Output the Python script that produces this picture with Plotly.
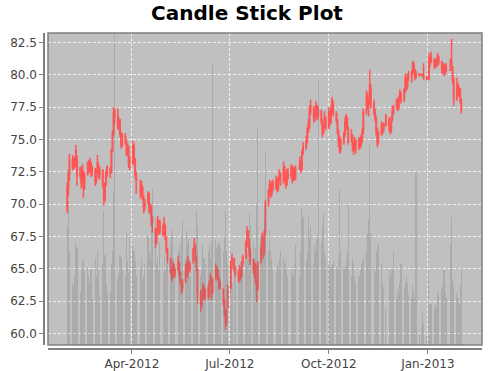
import pandas as pd
import plotly.graph_objects as go

# ---- data (business days 2012-02-01 .. 2013-02-01; holidays are flat bars) ----
start_date = "2012-02-01"
end_date = "2013-02-01"

open_ = [
    69.6, 71.2, 72.3,
    73.4, 72.9, 73.4, 73.0, 73.6,
    72.3, 72.6, 71.8, 72.5, 71.3,
    72.4, 73.2, 72.6, 73.2, 72.5,
    72.6, 71.8, 72.6, 73.0, 72.2,
    72.6, 71.5, 70.4, 71.6, 72.3,
    72.7, 72.5, 74.2, 75.5, 77.2,
    76.8, 76.0, 76.5, 75.4, 74.6,
    75.2, 74.8, 74.0, 74.4, 73.1,
    73.2, 74.5, 73.5, 72.3, 71.9,
    71.8, 70.8, 71.2, 70.5, 69.8,
    70.2, 70.8, 69.5, 69.8, 68.6,
    68.0, 67.1, 68.0, 68.6, 67.9,
    68.3, 67.7, 68.3, 67.3, 66.4,
    65.7, 64.8, 64.4, 65.2, 64.6,
    65.0, 65.4, 64.6, 64.0, 63.5,
    64.1, 65.2, 64.6, 65.5, 65.0,
    65.6, 66.5, 66.7, 65.8, 64.9,
    63.0, 62.3, 62.9, 63.4, 62.8,
    63.5, 62.9, 63.9, 64.1, 63.2,
    64.3, 65.0, 64.8, 64.2, 63.6,
    63.4, 62.5, 61.6, 60.9, 62.0,
    63.6, 65.3, 65.8, 65.7, 65.0,
    64.6, 64.3, 64.9, 64.5, 65.4,
    65.9, 67.0, 67.9, 66.9, 66.2,
    65.6, 64.9, 65.2, 64.0, 63.5,
    65.6, 66.5, 67.2, 66.2, 67.8,
    70.1, 71.0, 71.4, 70.8, 71.7,
    71.3, 71.9, 71.2, 72.0, 72.3,
    71.7, 72.8, 72.1, 71.6, 72.5,
    72.2, 72.8, 71.9, 72.6, 72.0,
    72.8, 72.8, 73.2, 72.7, 74.0,
    74.4, 74.9, 75.8, 76.0, 77.2,
    77.4, 76.7, 77.0, 77.5, 76.8,
    77.2, 76.4, 75.6, 76.0, 76.6,
    76.0, 77.0, 76.4, 77.4, 77.8,
    77.0, 76.5, 75.6, 74.8, 74.3,
    74.8, 75.4, 76.2, 76.6, 75.9,
    75.0, 75.3, 74.5, 74.3, 74.9,
    74.4, 75.0, 74.6, 75.0, 75.6,
    77.1, 78.4, 77.6, 77.9, 78.9,
    77.8, 77.0, 76.6, 75.6, 74.9,
    75.5, 76.2, 75.8, 76.1, 76.1,
    76.6, 76.0, 75.8, 76.6, 77.1,
    77.5, 78.0, 77.5, 78.2, 78.5,
    78.1, 78.8, 79.6, 79.1, 79.9,
    79.8, 80.2, 80.8, 80.3, 79.9,
    80.1, 80.0, 80.0, 80.0, 80.0,
    79.8, 79.7, 79.7, 81.3, 81.0,
    81.2, 80.7, 81.1, 80.8, 81.4,
    81.0, 80.4, 80.8, 80.2, 80.7,
    80.4, 80.4, 81.0, 80.6, 79.6,
    78.2, 79.2, 78.6, 78.9, 78.0,
]

high = [
    71.7, 72.6, 73.9,
    73.8, 73.6, 73.7, 74.6, 73.8,
    72.9, 72.8, 73.1, 72.6, 72.5,
    73.3, 73.4, 73.6, 73.3, 73.0,
    72.8, 72.7, 73.8, 73.2, 72.9,
    72.7, 71.6, 71.7, 72.6, 73.0,
    72.9, 74.3, 75.7, 77.5, 77.4,
    77.4, 76.7, 76.6, 75.6, 75.5,
    75.5, 75.0, 74.7, 74.5, 73.7,
    74.9, 74.7, 73.6, 72.5, 71.9,
    71.9, 71.8, 71.4, 70.7, 70.4,
    71.0, 70.9, 70.1, 69.9, 69.1,
    68.2, 68.1, 69.1, 68.8, 68.8,
    68.5, 69.0, 68.4, 67.5, 66.6,
    65.9, 65.0, 65.6, 65.4, 65.1,
    66.0, 65.5, 64.8, 64.1, 64.2,
    65.4, 65.5, 66.0, 65.7, 65.5,
    66.6, 67.4, 66.9, 66.0, 65.0,
    63.4, 63.1, 63.9, 63.7, 63.5,
    63.7, 64.1, 64.7, 64.3, 64.3,
    65.4, 65.2, 65.0, 64.4, 64.1,
    63.5, 62.7, 61.8, 61.9, 63.8,
    65.6, 66.2, 65.8, 65.9, 65.2,
    64.9, 65.3, 65.1, 65.6, 66.1,
    67.2, 68.3, 68.0, 67.3, 66.6,
    65.8, 65.5, 65.4, 64.3, 65.6,
    66.8, 67.8, 67.5, 68.0, 70.3,
    71.2, 71.9, 71.6, 71.8, 71.9,
    72.2, 72.0, 72.1, 72.7, 72.5,
    73.3, 73.0, 72.3, 72.7, 72.8,
    73.1, 72.9, 73.0, 72.8, 73.0,
    72.8, 73.7, 73.4, 74.2, 74.8,
    75.3, 76.0, 76.6, 77.6, 78.1,
    77.6, 77.3, 78.0, 77.7, 77.6,
    77.3, 76.6, 76.2, 77.2, 76.8,
    77.5, 77.2, 77.6, 78.3, 78.0,
    77.2, 76.6, 75.8, 75.3, 75.1,
    75.6, 76.7, 77.0, 76.8, 76.0,
    75.8, 75.4, 74.8, 75.2, 75.0,
    75.2, 75.1, 75.4, 75.9, 77.4,
    78.8, 78.6, 78.2, 80.4, 79.3,
    78.1, 77.4, 76.8, 75.9, 75.7,
    76.4, 76.3, 76.3, 76.1, 77.0,
    76.7, 76.2, 76.8, 77.6, 77.7,
    78.2, 78.1, 78.4, 78.9, 78.7,
    79.0, 80.1, 79.8, 80.1, 80.3,
    80.4, 81.1, 81.0, 80.5, 80.3,
    80.1, 80.0, 80.1, 80.1, 80.9,
    79.9, 79.7, 81.7, 81.4, 81.8,
    81.3, 81.2, 81.3, 81.7, 81.5,
    81.1, 80.9, 80.9, 80.8, 80.9,
    80.4, 81.3, 82.8, 80.7, 79.8,
    79.8, 79.4, 79.1, 79.0, 78.2,
]

low = [
    69.3, 70.6, 71.8,
    72.6, 72.7, 72.8, 72.9, 71.4,
    72.0, 71.2, 71.6, 70.5, 71.1,
    72.2, 72.4, 72.5, 72.1, 72.2,
    71.4, 71.6, 72.4, 72.0, 71.9,
    71.3, 69.9, 70.2, 71.4, 72.1,
    72.0, 72.4, 74.0, 75.3, 76.2,
    75.8, 75.7, 75.2, 74.3, 74.4,
    74.6, 73.7, 73.8, 72.8, 72.6,
    73.0, 73.4, 72.0, 70.8, 71.9,
    70.4, 70.6, 70.3, 69.3, 69.5,
    70.0, 69.3, 69.2, 68.3, 67.8,
    66.6, 66.9, 67.8, 67.6, 67.7,
    67.5, 67.6, 67.2, 66.2, 65.4,
    64.6, 64.0, 64.2, 64.4, 64.3,
    64.8, 64.4, 63.8, 63.0, 63.2,
    63.9, 64.4, 64.3, 64.8, 64.7,
    65.4, 66.2, 65.6, 64.8, 62.3,
    61.7, 62.0, 62.7, 62.6, 62.5,
    62.6, 62.8, 63.7, 62.6, 63.0,
    64.1, 64.5, 64.0, 63.4, 63.4,
    62.1, 61.3, 60.3, 60.6, 61.9,
    63.4, 65.0, 65.8, 64.8, 64.4,
    63.9, 64.0, 64.1, 64.3, 65.2,
    65.7, 66.8, 66.6, 65.9, 65.3,
    64.6, 64.3, 63.8, 62.4, 63.3,
    65.4, 66.2, 65.8, 66.0, 67.6,
    69.8, 70.7, 70.5, 70.6, 71.0,
    71.1, 70.9, 71.0, 71.8, 71.4,
    71.6, 71.9, 71.2, 71.4, 71.9,
    72.0, 71.6, 71.8, 71.8, 71.9,
    72.8, 72.6, 72.4, 72.6, 73.8,
    74.2, 74.7, 75.5, 75.8, 76.9,
    76.3, 76.4, 76.8, 76.5, 76.6,
    76.2, 75.2, 75.4, 75.9, 75.7,
    75.8, 76.1, 76.2, 77.2, 76.8,
    76.3, 75.4, 74.4, 73.9, 74.0,
    74.6, 75.2, 76.0, 75.7, 74.6,
    74.8, 74.1, 73.8, 74.1, 73.9,
    74.2, 74.3, 74.4, 74.8, 75.4,
    76.9, 77.3, 76.8, 77.7, 77.4,
    76.9, 76.4, 75.3, 74.4, 74.6,
    75.3, 75.4, 75.6, 76.1, 76.0,
    75.6, 75.4, 75.5, 76.4, 76.9,
    77.3, 77.2, 77.3, 78.0, 77.8,
    77.9, 78.6, 78.8, 78.9, 79.5,
    79.4, 80.0, 80.1, 79.6, 79.7,
    79.9, 80.0, 79.9, 79.9, 79.6,
    79.6, 79.7, 79.6, 80.6, 80.9,
    80.5, 80.5, 80.6, 80.7, 80.8,
    80.1, 80.2, 79.9, 80.0, 80.2,
    80.4, 80.3, 80.6, 79.3, 77.6,
    78.0, 78.4, 78.3, 77.8, 77.0,
]

close = [
    71.3, 72.3, 73.5,
    72.9, 73.4, 73.0, 74.2, 72.2,
    72.8, 71.6, 72.9, 71.3, 72.3,
    73.2, 72.6, 73.4, 72.5, 72.9,
    71.8, 72.6, 73.2, 72.2, 72.8,
    71.5, 70.3, 71.6, 72.5, 72.9,
    72.4, 74.2, 75.5, 77.1, 76.8,
    76.0, 76.5, 75.4, 74.6, 75.3,
    74.8, 74.0, 74.5, 73.2, 73.4,
    74.5, 73.6, 72.3, 71.9, 71.9,
    70.8, 71.5, 70.5, 69.8, 70.0,
    70.8, 69.5, 69.9, 68.7, 68.9,
    67.1, 68.0, 68.8, 67.9, 68.6,
    67.7, 68.6, 67.4, 66.4, 65.7,
    64.8, 64.3, 65.3, 64.6, 64.9,
    65.6, 64.6, 64.0, 63.5, 64.0,
    65.2, 64.7, 65.6, 65.0, 65.3,
    66.5, 67.0, 65.8, 65.2, 63.2,
    62.3, 62.9, 63.6, 62.8, 63.3,
    62.9, 63.9, 64.4, 63.1, 64.1,
    65.0, 64.8, 64.2, 63.6, 63.8,
    62.5, 61.6, 60.8, 61.7, 63.4,
    65.3, 65.8, 65.8, 65.0, 64.6,
    64.3, 65.0, 64.5, 65.4, 65.9,
    67.0, 67.9, 66.9, 66.2, 65.6,
    64.9, 65.2, 64.0, 63.2, 65.4,
    66.5, 67.4, 66.2, 67.8, 70.0,
    71.0, 71.5, 70.8, 71.7, 71.3,
    71.9, 71.2, 72.0, 72.4, 71.6,
    72.9, 72.1, 71.5, 72.5, 72.1,
    72.8, 71.9, 72.7, 72.0, 72.8,
    72.8, 73.3, 72.7, 74.0, 74.4,
    74.9, 75.8, 76.2, 77.2, 77.6,
    76.7, 77.1, 77.6, 76.8, 77.4,
    76.4, 75.6, 76.0, 76.8, 75.9,
    77.1, 76.3, 77.4, 78.0, 77.0,
    76.5, 75.6, 74.8, 74.2, 74.9,
    75.4, 76.3, 76.8, 75.9, 74.9,
    75.4, 74.5, 74.2, 75.0, 74.3,
    75.0, 74.6, 75.2, 75.6, 77.1,
    78.4, 77.6, 77.9, 79.2, 77.8,
    77.0, 76.6, 75.6, 74.8, 75.5,
    76.2, 75.8, 76.1, 76.1, 76.8,
    76.0, 75.7, 76.6, 77.2, 77.5,
    78.0, 77.5, 78.2, 78.6, 78.0,
    78.8, 79.7, 79.0, 79.9, 80.0,
    80.2, 80.9, 80.3, 79.9, 80.1,
    80.0, 80.0, 80.0, 79.95, 79.8,
    79.7, 79.7, 81.3, 81.0, 81.5,
    80.7, 81.1, 80.8, 81.4, 81.0,
    80.4, 80.8, 80.2, 80.7, 80.4,
    80.4, 81.0, 80.8, 79.6, 78.1,
    79.2, 78.6, 78.9, 78.0, 77.3,
]

volume = [
    38, 46, 30,
    20, 19, 22, 33, 31,
    17, 24, 27, 28, 24,
    25, 22, 20, 24, 15,
    28, 22, 30, 24, 16,
    26, 43, 29, 20, 17,
    17, 26, 30, 49, 100,
    21, 22, 29, 28, 24,
    22, 36, 27, 23, 35,
    32, 30, 27, 22, 0,
    25, 28, 21, 22, 26,
    35, 30, 28, 45, 50,
    41, 26, 28, 24, 33,
    23, 29, 24, 26, 30,
    33, 35, 37, 28, 26,
    30, 32, 29, 35, 40,
    28, 37, 33, 34, 22,
    30, 28, 31, 43, 38,
    22, 24, 32, 28, 26,
    30, 32, 28, 33, 90,
    34, 31, 32, 33, 31,
    30, 35, 43, 30, 26,
    27, 20, 0, 26, 24,
    20, 22, 24, 27, 26,
    27, 30, 28, 42, 38,
    33, 28, 31, 45, 70,
    35, 33, 30, 40, 62,
    30, 37, 30, 28, 24,
    23, 26, 25, 28, 30,
    28, 26, 27, 24, 22,
    24, 23, 22, 26, 32,
    0, 22, 30, 44, 41,
    27, 30, 41, 35, 38,
    26, 32, 30, 34, 85,
    33, 38, 42, 30, 28,
    26, 27, 25, 26, 27,
    25, 24, 28, 50, 30,
    25, 25, 28, 30, 45,
    22, 28, 26, 22, 20,
    22, 24, 26, 27, 28,
    30, 36, 40, 64, 36,
    25, 23, 30, 32, 32,
    26, 20, 18, 0, 12,
    24, 22, 24, 24, 30,
    15, 18, 17, 20, 26,
    18, 20, 22, 20, 16,
    15, 19, 17, 15, 55,
    4, 0, 6, 11, 7,
    3, 0, 24, 13, 13,
    12, 13, 12, 17, 16,
    18, 19, 24, 17, 15,
    0, 32, 41, 21, 19,
    17, 15, 13, 19, 24,
]

tick_dates = ["2012-04-01", "2012-07-01", "2012-10-01", "2013-01-01"]
tick_labels = ["Apr-2012", "Jul-2012", "Oct-2012", "Jan-2013"]
y_ticks = [60.0, 62.5, 65.0, 67.5, 70.0, 72.5, 75.0, 77.5, 80.0, 82.5]

dates = pd.bdate_range(start_date, end_date)
n = len(dates)
assert all(len(a) == n for a in (open_, high, low, close, volume)), [len(a) for a in (open_, high, low, close, volume)]

# ---- figure ----
W, H = 494, 371
ML, MR, MT, MB = 44, 12, 33, 22
pw, ph = W - ML - MR, H - MT - MB
xd0 = 4 / pw
yd0 = 4 / ph

red = "#ff5555"
fig = go.Figure()
fig.add_trace(go.Bar(
    x=dates, y=volume, yaxis="y2",
    marker=dict(color="rgba(120,120,120,0.28)", line=dict(width=0)),
    hoverinfo="skip",
))
fig.add_trace(go.Candlestick(
    x=dates, open=open_, high=high, low=low, close=close,
    increasing=dict(line=dict(color=red, width=1.5), fillcolor=red),
    decreasing=dict(line=dict(color=red, width=1.5), fillcolor=red),
    whiskerwidth=0,
))

axis_color = "#808080"
grid_color = "rgba(255,255,255,0.75)"
fig.update_layout(
    width=W, height=H,
    margin=dict(l=ML, r=MR, t=MT, b=MB, pad=0, autoexpand=False),
    paper_bgcolor="white", plot_bgcolor="#c0c0c0",
    showlegend=False, bargap=0,
    font=dict(family="DejaVu Sans", size=12, color="#444444"),
    title=dict(
        text="Candle Stick Plot", x=0.5, xref="container", xanchor="center",
        y=1 - 13 / H, yref="container", yanchor="middle",
        font=dict(family="DejaVu Sans", size=20, color="black", weight="bold"),
    ),
    xaxis=dict(
        type="date", range=["2012-01-14 02:00", "2013-02-20 07:00"],
        domain=[xd0, 1], anchor="free", position=0, automargin=False,
        showline=True, linecolor=axis_color, linewidth=1.5,
        ticks="outside", ticklen=4, tickwidth=1, tickcolor=axis_color,
        tickvals=tick_dates, ticktext=tick_labels,
        showgrid=True, gridcolor=grid_color, gridwidth=1, griddash="3px,2px",
        zeroline=False, rangeslider=dict(visible=False),
    ),
    yaxis=dict(
        range=[59.1, 83.25], domain=[yd0, 1], anchor="free", position=0, automargin=False,
        showline=True, linecolor=axis_color, linewidth=1.5,
        ticks="outside", ticklen=4, tickwidth=1, tickcolor=axis_color,
        tickvals=y_ticks, tickformat=".1f",
        showgrid=True, gridcolor=grid_color, gridwidth=1, griddash="3px,2px",
        zeroline=False,
    ),
    yaxis2=dict(overlaying="y", range=[0, 100], visible=False, showgrid=False, automargin=False),
)
fig.add_shape(
    type="rect", xref="paper", yref="paper",
    x0=xd0, x1=1, y0=yd0, y1=1,
    line=dict(color=axis_color, width=1.5), layer="above",
)

fig.write_html("out.html")
